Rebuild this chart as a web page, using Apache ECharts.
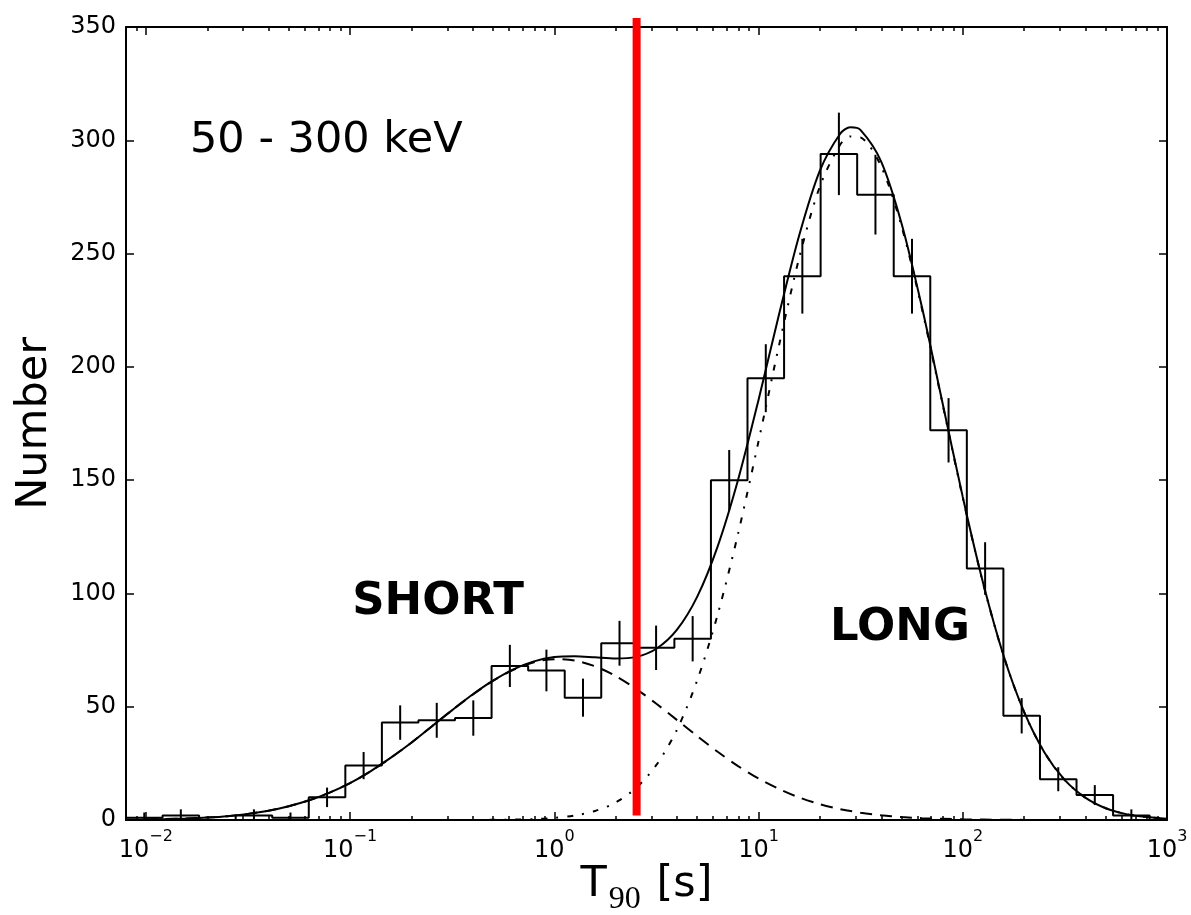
<!DOCTYPE html>
<html>
<head>
<meta charset="utf-8">
<script src="https://cdn.jsdelivr.net/npm/echarts@6/dist/echarts.min.js"></script>
<style>
html,body{margin:0;padding:0;background:#fff;}
#chart{width:1191px;height:915px;}
</style>
</head>
<body>
<div id="chart"></div>
<script>
// ---- data ----
const binEdges = [0.0080, 0.01208, 0.01824, 0.02754, 0.04159, 0.06281, 0.09484, 0.1432, 0.2163, 0.3266,
  0.4932, 0.7447, 1.125, 1.698, 2.564, 3.873, 5.848, 8.831, 13.34, 20.14, 30.41, 45.92, 69.34, 104.7,
  158.1, 238.8, 360.6, 544.5, 822.2];
const counts = [1, 2, 0, 2, 1, 10, 24, 43, 44, 45, 68, 66, 54, 78, 76, 80, 150, 195, 240, 294, 276, 240,
  172, 111, 46, 18, 11, 2];
const countErrors = [2.3, 2.7, 0, 2.7, 2.3, 4.3, 6.0, 7.6, 7.7, 7.8, 9.3, 9.2, 8.4, 9.9, 9.8, 10.0, 13.3,
  15.0, 16.5, 18.2, 17.6, 16.5, 14.2, 11.6, 7.8, 5.3, 4.4, 2.7];

const curveT = [0.00794, 0.01, 0.01259, 0.01585, 0.01995, 0.02512, 0.03162, 0.03981, 0.05012, 0.0631,
  0.07943, 0.1, 0.1259, 0.1585, 0.1995, 0.2512, 0.3162, 0.3981, 0.5012, 0.631, 0.7943, 1, 1.259, 1.585,
  1.995, 2.512, 3.162, 3.981, 5.012, 6.31, 7.943, 10, 12.59, 15.85, 19.95, 25.12, 28.18, 31.62, 39.81,
  50.12, 63.1, 79.43, 100, 125.9, 158.5, 199.5, 251.2, 316.2, 398.1, 501.2, 631, 794.3, 1000];
const totalFit = [0.1, 0.2, 0.4, 0.7, 1.1, 1.7, 2.7, 4.1, 6.1, 8.7, 12.1, 16.3, 21.5, 27.5, 34.1, 41.3,
  48.5, 55.4, 61.5, 66.5, 70.0, 71.9, 72.3, 71.8, 71.3, 72.0, 75.6, 83.9, 98.6, 120.8, 150.2, 185.4,
  223.0, 258.3, 286.5, 302.9, 305.7, 304.5, 290.7, 263.4, 226.4, 184.5, 142.6, 104.5, 72.5, 47.8, 29.8,
  17.6, 9.9, 5.2, 2.6, 1.3, 0.6];
const shortFit = [0.1, 0.2, 0.4, 0.7, 1.1, 1.7, 2.7, 4.1, 6.1, 8.7, 12.1, 16.3, 21.5, 27.5, 34.1, 41.3,
  48.5, 55.3, 61.4, 66.3, 69.6, 71.0, 70.4, 67.8, 63.6, 57.9, 51.3, 44.2, 37.0, 30.1, 23.8, 18.3, 13.7,
  9.9, 7.0, 4.8, 4.0, 3.2, 2.1, 1.3, 0.8, 0.5, 0.3, 0.2, 0.1, 0.05, 0.03, 0.01, 0, 0, 0, 0, 0];
const longFit = [0, 0, 0, 0, 0, 0, 0, 0, 0, 0, 0, 0, 0, 0, 0, 0, 0.01, 0.03, 0.07, 0.17, 0.41, 0.9, 2.0,
  4.0, 7.7, 14.1, 24.3, 39.7, 61.7, 90.7, 126.4, 167.1, 209.3, 248.4, 279.5, 298.1, 301.7, 301.3, 288.6,
  262.1, 225.6, 184.0, 142.3, 104.3, 72.4, 47.7, 29.8, 17.6, 9.9, 5.2, 2.6, 1.3, 0.6];

const cutT90 = 2.53;            // red dividing line (s)
const cutLineRange = [2, 354];  // its vertical extent in counts

const xMajorTicks = [0.01, 0.1, 1, 10, 100, 1000];
const xTickExponents = ['\u22122', '\u22121', '0', '1', '2', '3'];
const xMinorTicks = [0.009, 0.02, 0.03, 0.04, 0.05, 0.06, 0.07, 0.08, 0.09, 0.2, 0.3, 0.4, 0.5, 0.6, 0.7,
  0.8, 0.9, 2, 3, 4, 5, 6, 7, 8, 9, 20, 30, 40, 50, 60, 70, 80, 90, 200, 300, 400, 500, 600, 700, 800, 900];
const xRange = [0.008, 1000];
const yRange = [0, 350];
const yStep = 50;

// ---- build library inputs ----
const histData = [[binEdges[0], 0]];
counts.forEach((c, i) => histData.push([binEdges[i], c]));
histData.push([binEdges[counts.length], counts[counts.length - 1]]);
histData.push([binEdges[counts.length], 0]);

const errData = [];
counts.forEach((c, i) => {
  if (countErrors[i] > 0) {
    const center = Math.sqrt(binEdges[i] * binEdges[i + 1]);
    errData.push([center, Math.max(0, c - countErrors[i]), c + countErrors[i]]);
  }
});
const pair = (ys) => curveT.map((t, i) => [t, ys[i]]);

const FONT = '"DejaVu Sans", "Liberation Sans", sans-serif';
const black = '#000';

function logAxis(pos, ticks, len, withLine, withLabel) {
  return {
    type: 'log', logBase: 10, min: xRange[0], max: xRange[1], position: pos,
    axisLine: { show: withLine, lineStyle: { color: black, width: 2 } },
    axisTick: { show: true, inside: true, length: len, customValues: ticks, lineStyle: { color: black, width: 1.5 } },
    axisLabel: withLabel ? {
      show: true, margin: 9, customValues: xMajorTicks,
      formatter: (v) => {
        const i = xMajorTicks.findIndex(t => Math.abs(t - v) / t < 1e-6);
        return '{b|10}{s|' + (i >= 0 ? xTickExponents[i] : '') + '}';
      },
      rich: {
        b: { fontFamily: FONT, fontSize: 24, color: black, lineHeight: 34, verticalAlign: 'bottom' },
        s: { fontFamily: FONT, fontSize: 16, color: black, lineHeight: 22, verticalAlign: 'top' }
      }
    } : { show: false },
    splitLine: { show: false }, minorTick: { show: false }, minorSplitLine: { show: false }
  };
}

const chart = echarts.init(document.getElementById('chart'), null, { renderer: 'canvas' });
chart.setOption({
  animation: false,
  backgroundColor: '#fff',
  grid: { left: 126, right: 24, top: 27, bottom: 95, containLabel: false, outerBoundsMode: 'none' },
  xAxis: [
    Object.assign(logAxis('bottom', xMajorTicks, 8, true, true), {
      name: '{t|T}{s|90}{t| [s]}', nameLocation: 'middle', nameGap: 43, nameMoveOverlap: false,
      nameTextStyle: {
        rich: {
          t: { fontFamily: FONT, fontSize: 43, color: black, lineHeight: 50, verticalAlign: 'top' },
          s: { fontFamily: '"Liberation Serif", "DejaVu Serif", serif', fontSize: 32, color: black,
               lineHeight: 32, verticalAlign: 'top', padding: [21, 2, 0, 2] }
        }
      }
    }),
    logAxis('bottom', xMinorTicks, 4, false, false),
    logAxis('top', xMajorTicks, 8, true, false),
    logAxis('top', xMinorTicks, 4, false, false)
  ],
  yAxis: [
    {
      type: 'value', min: yRange[0], max: yRange[1], interval: yStep, position: 'left',
      name: 'Number', nameLocation: 'middle', nameGap: 70, nameRotate: 90, nameMoveOverlap: false,
      nameTextStyle: { fontFamily: FONT, fontSize: 43, color: black, lineHeight: 43 },
      axisLine: { show: true, lineStyle: { color: black, width: 2 } },
      axisTick: { show: true, inside: true, length: 8, lineStyle: { color: black, width: 1.5 } },
      axisLabel: { fontFamily: FONT, fontSize: 24, color: black, margin: 10 },
      splitLine: { show: false }
    },
    {
      type: 'value', min: yRange[0], max: yRange[1], interval: yStep, position: 'right',
      axisLine: { show: true, lineStyle: { color: black, width: 2 } },
      axisTick: { show: true, inside: true, length: 8, lineStyle: { color: black, width: 1.5 } },
      axisLabel: { show: false },
      splitLine: { show: false }
    }
  ],
  series: [
    {
      name: 'histogram', type: 'line', step: 'end', data: histData, symbol: 'none',
      lineStyle: { color: black, width: 2 }, z: 3
    },
    {
      name: 'errors', type: 'custom', data: errData,
      encode: { x: 0, y: [1, 2] },
      renderItem: (params, api) => {
        const p1 = api.coord([api.value(0), api.value(1)]);
        const p2 = api.coord([api.value(0), api.value(2)]);
        return { type: 'line', shape: { x1: p1[0], y1: p1[1], x2: p2[0], y2: p2[1] },
                 style: { stroke: black, lineWidth: 2 } };
      },
      z: 3
    },
    {
      name: 'short', type: 'line', data: pair(shortFit), symbol: 'none', smooth: 0.3,
      lineStyle: { color: black, width: 2, type: [12, 8] }, z: 4
    },
    {
      name: 'long', type: 'line', data: pair(longFit), symbol: 'none', smooth: 0.3,
      lineStyle: { color: black, width: 2, type: [6, 9, 2, 9] }, z: 4
    },
    {
      name: 'total', type: 'line', data: pair(totalFit), symbol: 'none', smooth: 0.3,
      lineStyle: { color: black, width: 2 }, z: 5
    },
    {
      name: 'cut', type: 'line', data: [[cutT90, cutLineRange[0]], [cutT90, cutLineRange[1]]],
      symbol: 'none', clip: false, lineStyle: { color: '#ff0000', width: 8, cap: 'butt' }, z: 10
    }
  ],
  graphic: [
    { type: 'text', x: 190, y: 141, z: 20,
      style: { text: '50 - 300 keV', fontFamily: FONT, fontSize: 43, fill: black, align: 'left', verticalAlign: 'middle' } },
    { type: 'text', x: 438, y: 602, z: 20,
      style: { text: 'SHORT', fontFamily: FONT, fontWeight: 'bold', fontSize: 45, fill: black, align: 'center', verticalAlign: 'middle' } },
    { type: 'text', x: 900, y: 628, z: 20,
      style: { text: 'LONG', fontFamily: FONT, fontWeight: 'bold', fontSize: 45, fill: black, align: 'center', verticalAlign: 'middle' } }
  ]
});
</script>
</body>
</html>
